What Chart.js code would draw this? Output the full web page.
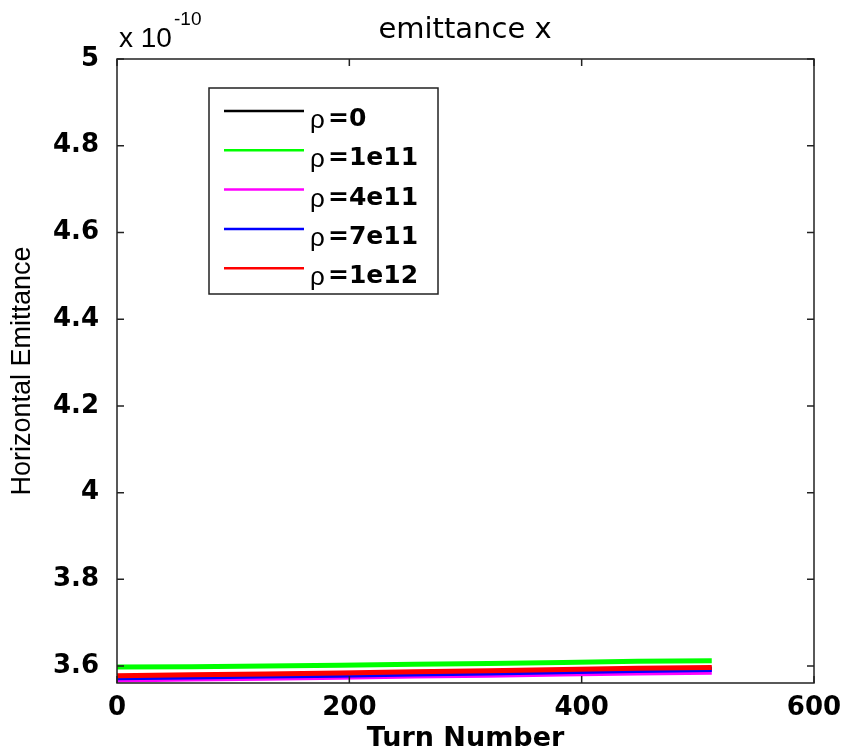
<!DOCTYPE html>
<html>
<head>
<meta charset="utf-8">
<style>
    body { margin: 0; background: #fff; }
</style>
</head>
<body>
<canvas id="myChart" width="848" height="755"></canvas>

<script src="https://cdn.jsdelivr.net/npm/chart.js@4.4.0/dist/chart.umd.min.js"></script>
<script>
    // values in units of 1e-10
    const turns = [0, 64, 128, 192, 256, 320, 384, 448, 512]
    const rho0 = [3.574, 3.576, 3.578, 3.580, 3.583, 3.585, 3.588, 3.591, 3.593]
    const rho1e11 = [3.598, 3.5985, 3.600, 3.602, 3.604, 3.606, 3.608, 3.611, 3.6125]
    const rho4e11 = [3.568, 3.570, 3.572, 3.574, 3.577, 3.579, 3.582, 3.584, 3.586]
    const rho7e11 = [3.573, 3.575, 3.577, 3.579, 3.582, 3.584, 3.587, 3.590, 3.592]
    const rho1e12 = [3.578, 3.580, 3.582, 3.584, 3.587, 3.589, 3.592, 3.595, 3.5965]

    const xTicks = [0, 200, 400, 600]
    const yTicks = [3.6, 3.8, 4.0, 4.2, 4.4, 4.6, 4.8, 5.0]

    const pts = arr => arr.map((v, i) => ({x: turns[i], y: v}))

    // first dataset is drawn on top, so red goes first
    const series = [
        {label: 'ρ=1e12', data: rho1e12, color: '#ff0000'},
        {label: 'ρ=7e11', data: rho7e11, color: '#0000ff'},
        {label: 'ρ=4e11', data: rho4e11, color: '#ff00ff'},
        {label: 'ρ=1e11', data: rho1e11, color: '#00ff00'},
        {label: 'ρ=0', data: rho0, color: '#000000'},
    ]

    const boxPlugin = {
        id: 'matlabBox',
        afterDraw(chart) {
            const c = chart.ctx
            const a = chart.chartArea
            const xs = chart.scales.x, ys = chart.scales.y
            c.save()
            c.strokeStyle = '#222'
            c.lineWidth = 1.5
            c.strokeRect(a.left, a.top, a.right - a.left, a.bottom - a.top)
            c.beginPath()
            xTicks.forEach(t => {
                const px = xs.getPixelForValue(t)
                c.moveTo(px, a.bottom); c.lineTo(px, a.bottom - 7)
                c.moveTo(px, a.top); c.lineTo(px, a.top + 7)
            })
            yTicks.forEach(t => {
                const py = ys.getPixelForValue(t)
                c.moveTo(a.left, py); c.lineTo(a.left + 7, py)
                c.moveTo(a.right, py); c.lineTo(a.right - 7, py)
            })
            c.stroke()

            // title and exponent
            c.fillStyle = '#000'
            c.textAlign = 'center'
            c.textBaseline = 'alphabetic'
            c.font = '29px "DejaVu Sans"'
            c.fillText('emittance x', 465, 38)
            c.textAlign = 'left'
            c.font = '28px "Liberation Sans"'
            c.fillText('x 10', 119, 47)
            c.font = '19px "Liberation Sans"'
            c.fillText('-10', 174, 25)

            // legend
            const lx = 209, ly = 88, lw = 229, lh = 206
            c.fillStyle = '#fff'
            c.fillRect(lx, ly, lw, lh)
            c.strokeStyle = '#222'
            c.lineWidth = 1.5
            c.strokeRect(lx, ly, lw, lh)
            const items = chart.data.datasets.slice().reverse()
            items.forEach((ds, i) => {
                const y = 111 + i * 39.3
                c.strokeStyle = ds.borderColor
                c.lineWidth = 2.5
                c.beginPath()
                c.moveTo(224, y); c.lineTo(304, y)
                c.stroke()
                c.fillStyle = '#000'
                c.font = '26px "Liberation Sans"'
                c.fillText(ds.label.slice(0, 1), 310, y + 17)
                c.font = 'bold 25px "DejaVu Sans"'
                c.fillText(ds.label.slice(1), 328, y + 15)
            })
            c.restore()
        }
    }

    const ctx = document.getElementById('myChart')
    let chart = new Chart(ctx, {
        type: 'line',
        data: {
            datasets: series.map(s => ({
                label: s.label,
                data: pts(s.data),
                borderColor: s.color,
                backgroundColor: s.color,
                borderWidth: 5,
                pointRadius: 0,
                tension: 0,
                fill: false
            }))
        },
        options: {
            responsive: false,
            devicePixelRatio: 1,
            animation: false,
            layout: {padding: {top: 59, right: 34, bottom: 0, left: 0}},
            plugins: {
                legend: {display: false},
                tooltip: {enabled: false}
            },
            scales: {
                x: {
                    type: 'linear',
                    min: 0,
                    max: 600,
                    afterBuildTicks: s => { s.ticks = xTicks.map(v => ({value: v})) },
                    afterFit: s => { s.height = 72 },
                    grid: {display: false},
                    border: {display: false},
                    ticks: {
                        padding: 2,
                        color: '#000',
                        font: {family: 'DejaVu Sans', size: 26, weight: 'bold'},
                        maxRotation: 0
                    },
                    title: {
                        display: true,
                        text: 'Turn Number',
                        color: '#000',
                        padding: {top: 0, bottom: 0},
                        font: {family: 'DejaVu Sans', size: 27, weight: 'bold'}
                    }
                },
                y: {
                    type: 'linear',
                    min: 3.561,
                    max: 5,
                    afterBuildTicks: s => { s.ticks = yTicks.map(v => ({value: v})) },
                    afterFit: s => { s.width = 117 },
                    grid: {display: false},
                    border: {display: false},
                    ticks: {
                        padding: 10,
                        color: '#000',
                        font: {family: 'DejaVu Sans', size: 26, weight: 'bold'},
                        callback: v => String(+v.toFixed(1))
                    },
                    title: {
                        display: true,
                        text: 'Horizontal Emittance',
                        color: '#000',
                        padding: {top: 6, bottom: 0},
                        font: {family: 'Liberation Sans', size: 27}
                    }
                }
            }
        },
        plugins: [boxPlugin]
    })
</script>
</body>
</html>
